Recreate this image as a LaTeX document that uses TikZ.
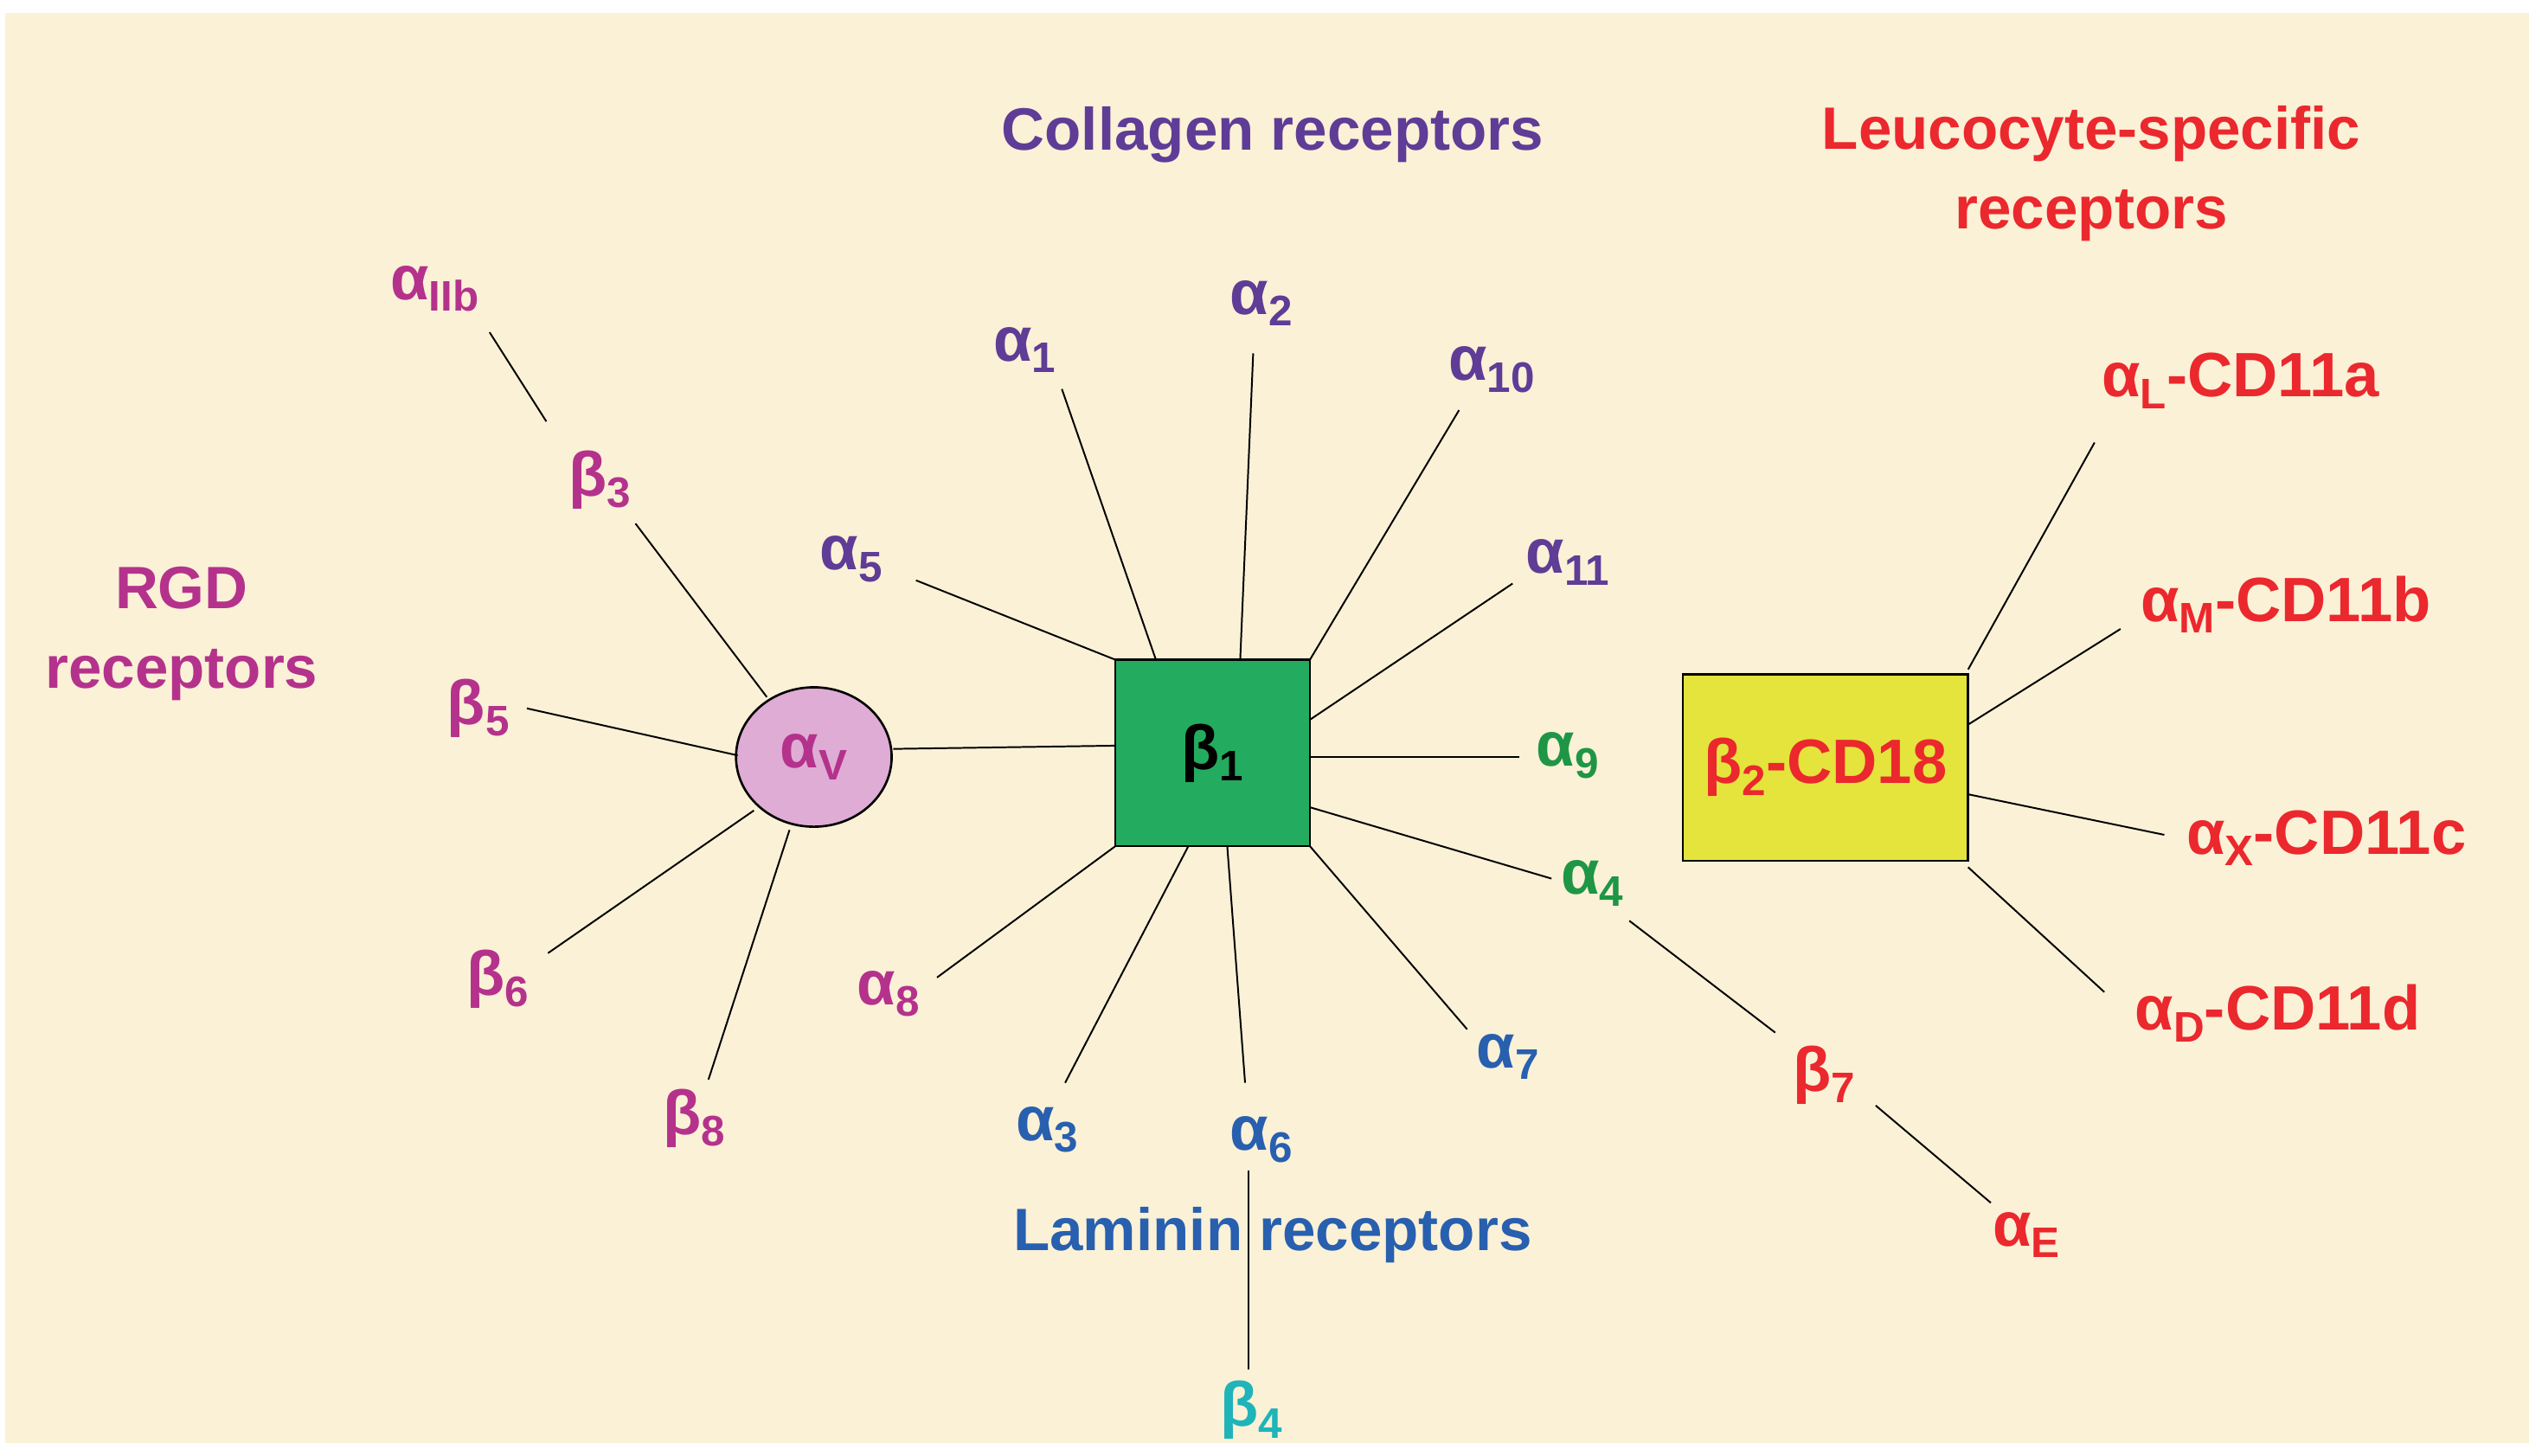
\documentclass[tikz,border=0pt]{standalone}
\usepackage{fontspec}
\usetikzlibrary{shapes.geometric}
\setmainfont{Liberation Sans}
\newcommand{\mysb}[1]{\raisebox{-0.35ex}{\fontsize{15}{15}\selectfont #1}}
\definecolor{bg}{RGB}{250,241,215}
\definecolor{cpur}{RGB}{95,60,150}
\definecolor{cred}{RGB}{235,40,45}
\definecolor{cmag}{RGB}{180,50,140}
\definecolor{cblu}{RGB}{40,95,175}
\definecolor{cgrn}{RGB}{30,150,70}
\definecolor{ctea}{RGB}{30,180,185}
\definecolor{boxg}{RGB}{35,172,95}
\definecolor{boxy}{RGB}{228,228,60}
\definecolor{ellp}{RGB}{222,172,212}
\begin{document}
\begin{tikzpicture}[x=0.02cm,y=-0.02cm,
  lbl/.style={font=\fontsize{22}{24}\selectfont\bfseries,inner sep=0pt},
  gk/.style={font=\fontsize{22}{24}\selectfont\bfseries,inner sep=0pt},
  ttl/.style={font=\fontsize{21}{28}\selectfont\bfseries,align=center,inner sep=0pt},
  ln/.style={line width=0.6pt,black}]
\useasboundingbox (0,0) rectangle (1568,898);
\fill[white] (0,0) rectangle (1568,898);
\fill[bg] (3,8) rectangle (1560,890);
% hubs
\node[draw,fill=boxg,minimum width=120*0.02cm,minimum height=115*0.02cm,inner sep=0pt,line width=0.8pt] (b1) at (748,464.5) {\fontsize{22}{24}\selectfont\bfseries β\mysb{1}};
\node[draw,ellipse,fill=ellp,minimum width=96*0.02cm,minimum height=86*0.02cm,inner sep=0pt,line width=0.8pt] (av) at (502,467) {\fontsize{22}{24}\selectfont\bfseries\color{cmag}α\mysb{V}};
\node[draw,fill=boxy,minimum width=176*0.02cm,minimum height=115*0.02cm,inner sep=0pt,line width=0.8pt] (b2) at (1126,473.5) {\fontsize{22}{24}\selectfont\bfseries\color{cred}β\mysb{2}-CD18};
% titles
\node[ttl,text=cpur] (t1) at (785,83) {Collagen receptors};
\node[ttl,text=cred] (t2) at (1290,107) {Leucocyte-specific\\receptors};
\node[ttl,text=cmag] (t3) at (112,391) {RGD\\receptors};
\node[ttl,text=cblu] (t4) at (785,762) {Laminin receptors};
% labels
\node[gk,text=cmag] (aIIb) at (268,178) {α\mysb{IIb}};
\node[gk,text=cmag] (b3) at (370,296) {β\mysb{3}};
\node[gk,text=cmag] (b5) at (295,437) {β\mysb{5}};
\node[gk,text=cmag] (b6) at (307,604) {β\mysb{6}};
\node[gk,text=cmag] (b8) at (428,690) {β\mysb{8}};
\node[gk,text=cpur] (a1) at (632,216) {α\mysb{1}};
\node[gk,text=cpur] (a2) at (778,187) {α\mysb{2}};
\node[gk,text=cpur] (a10) at (920,228) {α\mysb{10}};
\node[gk,text=cpur] (a11) at (967,347) {α\mysb{11}};
\node[gk,text=cpur] (a5) at (525,345) {α\mysb{5}};
\node[gk,text=cgrn] (a9) at (967,466) {α\mysb{9}};
\node[gk,text=cgrn] (a4) at (982,545) {α\mysb{4}};
\node[gk,text=cblu] (a7) at (930,652) {α\mysb{7}};
\node[gk,text=cblu] (a6) at (778,703) {α\mysb{6}};
\node[gk,text=cblu] (a3) at (646,697) {α\mysb{3}};
\node[gk,text=cmag] (a8) at (548,613) {α\mysb{8}};
\node[gk,text=ctea] (b4) at (772,870) {β\mysb{4}};
\node[gk,text=cred] (b7) at (1125,663) {β\mysb{7}};
\node[gk,text=cred] (aE) at (1250,762) {α\mysb{E}};
\node[lbl,text=cred] (aL) at (1382,235) {α\mysb{L}-CD11a};
\node[lbl,text=cred] (aM) at (1410,373) {α\mysb{M}-CD11b};
\node[lbl,text=cred] (aX) at (1435,517) {α\mysb{X}-CD11c};
\node[lbl,text=cred] (aD) at (1405,625) {α\mysb{D}-CD11d};
% endpoints
\foreach \n/\x/\y in {p1/302/205,p2/337/260,p3/392/323,p4/473/430,p5/325/437,p6/455/466,
 p7/338/588,p8/465/500,p9/437/666,p10/487/512,p11/551/462,p12/688/460,p13/565/358,p14/688/407,
 p15/655/240,p16/713/407,p17/773/218,p18/765/407,p19/900/253,p20/808/407,p21/933/360,p22/808/444,
 p23/808/467,p24/937/467,p25/808/498,p26/957/542,p27/1005/568,p28/1095/637,p29/1157/682,p30/1228/742,
 p31/808/522,p32/905/635,p33/757/522,p34/768/668,p35/733/522,p36/657/668,p37/688/522,p38/578/603,
 p39/770/722,p40/770/845,q1/1214/413,q2/1292/273,q3/1214/447,q4/1308/388,q5/1214/490,q6/1335/515,
 q7/1214/535,q8/1298/612}
 {\coordinate (\n) at (\x,\y);}
\foreach \a/\b in {p1/p2,p3/p4,p5/p6,p7/p8,p9/p10,p11/p12,p13/p14,p15/p16,p17/p18,p19/p20,p21/p22,
 p23/p24,p25/p26,p27/p28,p29/p30,p31/p32,p33/p34,p35/p36,p37/p38,p39/p40,q1/q2,q3/q4,q5/q6,q7/q8}
 {\draw[ln] (\a) -- (\b);}
\end{tikzpicture}
\end{document}
